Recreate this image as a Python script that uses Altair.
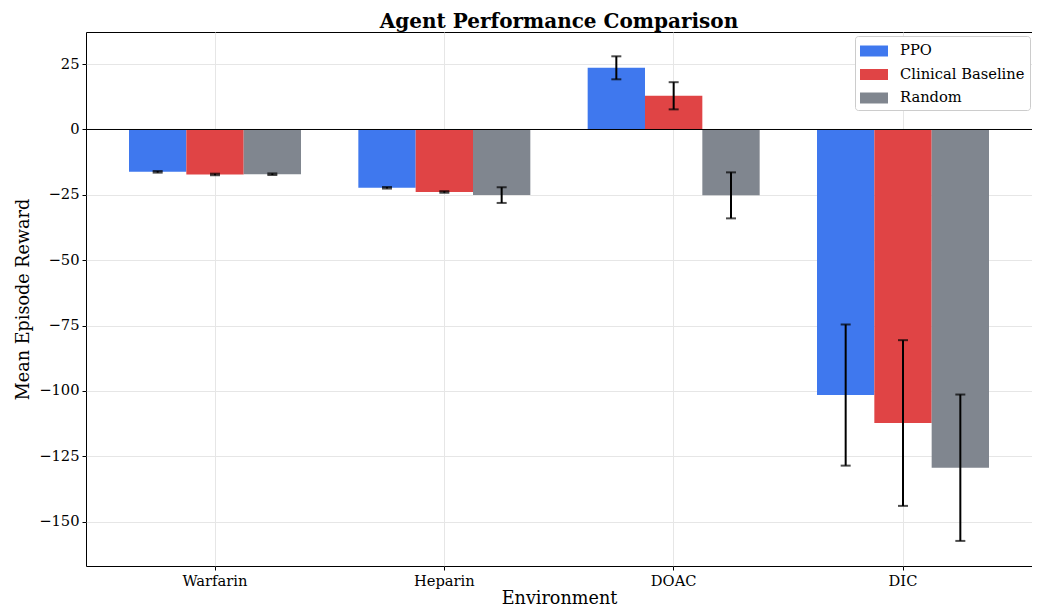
import altair as alt
import pandas as pd

environments = ["Warfarin", "Heparin", "DOAC", "DIC"]
agents = ["PPO", "Clinical Baseline", "Random"]
ppo_mean = [-16.2, -22.3, 23.6, -101.6]
ppo_std = [0.3, 0.3, 4.4, 27.0]
clin_mean = [-17.2, -23.9, 12.9, -112.3]
clin_std = [0.3, 0.3, 5.2, 31.7]
rand_mean = [-17.1, -25.1, -25.2, -129.4]
rand_std = [0.3, 3.0, 8.8, 28.0]
colors = ["#3F78EE", "#E04445", "#80868F"]

rows = []
for agent, means, stds in zip(agents, [ppo_mean, clin_mean, rand_mean], [ppo_std, clin_std, rand_std]):
    for env, m, s in zip(environments, means, stds):
        rows.append({"env": env, "agent": agent, "mean": m, "lo": m - s, "hi": m + s})
df = pd.DataFrame(rows)

FONT = "DejaVu Serif"
W, H = 946, 534

x_enc = alt.X("env:N", sort=environments, title="Environment",
              scale=alt.Scale(paddingInner=0.25, paddingOuter=0.1875),
              axis=alt.Axis(labelAngle=0, bandPosition=0.5, grid=True))
xoff = alt.XOffset("agent:N", sort=agents, scale=alt.Scale(paddingInner=0, paddingOuter=0))
y_scale = alt.Scale(domain=[-167, 37.3], nice=False, zero=False)

base = alt.Chart(df)

bars = base.mark_bar().encode(
    x=x_enc,
    xOffset=xoff,
    y=alt.Y("mean:Q", scale=y_scale, title="Mean Episode Reward",
            axis=alt.Axis(values=[-150, -125, -100, -75, -50, -25, 0, 25], grid=True)),
    color=alt.Color("agent:N", sort=agents,
                    scale=alt.Scale(domain=agents, range=colors),
                    legend=alt.Legend(title=None, orient="none", legendX=W - 177, legendY=4,
                                      symbolType="M-1,-0.55H1.8V0.55H-1Z", symbolSize=400,
                                      symbolStrokeWidth=0, labelFont=FONT, labelFontSize=14.7,
                                      labelColor="#000", rowPadding=6.5, padding=5,
                                      labelOffset=20,
                                      fillColor="white", strokeColor="#cccccc", cornerRadius=3)),
)

zero = alt.Chart(pd.DataFrame({"z": [0]})).mark_rule(color="black", strokeWidth=1).encode(
    y=alt.Y("z:Q", scale=y_scale)
)

err = base.mark_rule(color="black", strokeWidth=2).encode(
    x=alt.X("env:N", sort=environments),
    xOffset=xoff,
    y=alt.Y("lo:Q", scale=y_scale),
    y2="hi:Q",
)
cap_lo = base.mark_tick(color="black", thickness=2, size=10, orient="horizontal").encode(
    x=alt.X("env:N", sort=environments),
    xOffset=xoff,
    y=alt.Y("lo:Q", scale=y_scale),
)
cap_hi = base.mark_tick(color="black", thickness=2, size=10, orient="horizontal").encode(
    x=alt.X("env:N", sort=environments),
    xOffset=xoff,
    y=alt.Y("hi:Q", scale=y_scale),
)

chart = alt.layer(bars, zero, err, cap_lo, cap_hi).properties(
    width=W, height=H,
    title=alt.TitleParams("Agent Performance Comparison", font=FONT, fontSize=20,
                          fontWeight="bold", color="black", offset=0),
    autosize=alt.AutoSizeParams(type="none"),
    padding={"left": 78, "top": 24, "right": 0, "bottom": 41},
).configure_view(stroke="black", strokeWidth=1).configure_axis(
    labelFont=FONT, titleFont=FONT, labelFontSize=14.7, titleFontSize=17.6,
    titleFontWeight="normal", labelColor="black", titleColor="black",
    domain=False, tickColor="black", tickSize=4, gridColor="#e6e6e6", gridWidth=1,
).configure_axisY(titlePadding=6, labelPadding=3).configure_axisX(titlePadding=2, labelPadding=3)

chart.save("out.html", embed_options={"renderer": "svg", "actions": False})
